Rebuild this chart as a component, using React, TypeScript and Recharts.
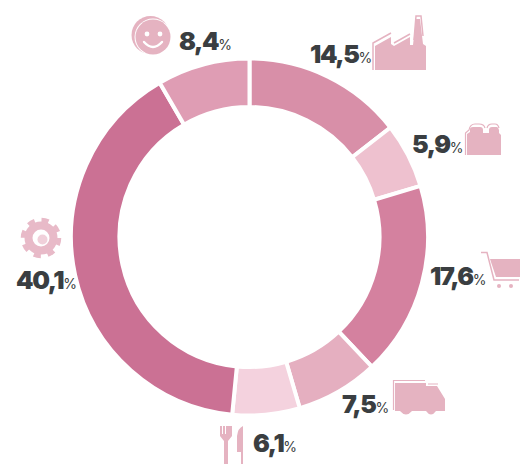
import { PieChart, Pie, Cell } from "recharts";

const CATEGORIES = ["industry", "construction", "commerce", "transport", "food", "services", "other"];
const SHARES = [14.5, 5.9, 17.6, 7.5, 6.1, 40.1, 8.4];
const SHARE_LABELS = ["14,5", "5,9", "17,6", "7,5", "6,1", "40,1", "8,4"];
const COLORS = ["#d88fa8", "#eec1cf", "#d4819f", "#e5afc0", "#f4d2de", "#cb7194", "#df9db4"];

// page coords of the text baseline start, one per slice
const LABEL_X = [310, 412, 430, 342, 253, 16, 179];
const LABEL_Y = [63, 153, 285, 413, 452, 289, 50];

const ICON = "#e5b3c1";

const data = CATEGORIES.map((name, i) => ({ name, value: SHARES[i] }));

function Factory() {
  return (
    <g>
      <path d="M375 46 L391 37 V44 L394 46 L410 37 V45 L413 45 L416 19 H420 L423 44 L426 46 V70 H375 Z" fill={ICON} />
      <path d="M373 70 V43 L391 33 M394 43 L410 34 M414 40 L416 16 H421 L423 36" fill="none" stroke={ICON} strokeWidth={1.5} />
    </g>
  );
}

function Block() {
  return (
    <g>
      <path d="M467 155 V134 L470 132 V129 Q470 127 473 127 H480 Q483 127 483 130 V133 H489 V130 Q489 127 492 127 H497 Q498 127 499 130 V133 L501 135 V155 Z" fill={ICON} />
      <path d="M465.5 155 V133 L469 130 Q470 124 475 124 H479 Q484 124 485 128 M487 128 Q488 124 492 124 H495 Q498 124 499 128" fill="none" stroke={ICON} strokeWidth={1.2} />
    </g>
  );
}

function Cart() {
  return (
    <g>
      <path d="M481 252.5 H487 L494 280 H519" fill="none" stroke={ICON} strokeWidth={1.5} />
      <path d="M490 259 H520 V277 H496 Z" fill={ICON} />
      <circle cx={499} cy={286} r={2} fill={ICON} />
      <circle cx={511} cy={286} r={2} fill={ICON} />
    </g>
  );
}

function Truck() {
  return (
    <g>
      <path d="M395 383 H426 V386 H437 L445 399 V411 H436 Q431 418 426 411 H412 Q406 418 400 411 H395 Z" fill={ICON} />
      <path d="M393.5 410 V380.5 H425 M428 384 H438" fill="none" stroke={ICON} strokeWidth={1.2} />
    </g>
  );
}

function Cutlery() {
  return (
    <g>
      <path d="M220 426 H222 V434 H223 V426 H225 V434 H226 V426 H228 V426 H232 V436 L228 441 V464 H224 V441 L220 436 Z" fill={ICON} />
      <path d="M237 452 V436 Q238 428 243 426 V464 H241 V452 Z" fill={ICON} />
    </g>
  );
}

function Gear() {
  return (
    <g>
      <circle cx={41} cy={238} r={12.5} fill="none" stroke="#e8bac8" strokeWidth={8} />
      <circle cx={41} cy={238} r={17.5} fill="none" stroke="#e8bac8" strokeWidth={5.5} strokeDasharray="7 6.74" />
      <circle cx={42.5} cy={239.5} r={5} fill="#f0d0da" />
    </g>
  );
}

function Smile() {
  return (
    <g>
      <circle cx={150.5} cy={35} r={19} fill={ICON} />
      <circle cx={153} cy={37} r={18.5} fill="#fff" />
      <circle cx={153} cy={37} r={17.5} fill={ICON} />
      <circle cx={147} cy={34} r={2.4} fill="#fff" />
      <circle cx={160} cy={34} r={2.4} fill="#fff" />
      <path d="M144 42 Q153 52 162 42" fill="none" stroke="#fff" strokeWidth={2.4} strokeLinecap="round" />
    </g>
  );
}

const ICONS = [Factory, Block, Cart, Truck, Cutlery, Gear, Smile];

function renderLabel({ index }: { index: number }) {
  const IconMark = ICONS[index];
  return (
    <g key={CATEGORIES[index]}>
      <IconMark />
      <text x={LABEL_X[index]} y={LABEL_Y[index]} fontFamily="Inter" fill="#3a3e41">
        <tspan fontSize={25} fontWeight={900} letterSpacing={-1.4}>
          {SHARE_LABELS[index]}
        </tspan>
        <tspan fontSize={14} fontWeight={400} dx={0}>
          %
        </tspan>
      </text>
    </g>
  );
}

export default function App() {
  return (
    <div style={{ position: "absolute", left: 0, top: 0, width: 520, height: 464, background: "#fff" }}>
      <PieChart width={520} height={464} margin={{ top: 0, right: 0, bottom: 0, left: 0 }}>
        <Pie
          data={data}
          dataKey="value"
          cx={249.5}
          cy={237}
          innerRadius={130}
          outerRadius={178.5}
          startAngle={90}
          endAngle={-270}
          stroke="#fff"
          strokeWidth={4}
          label={renderLabel}
          labelLine={false}
          isAnimationActive={false}
        >
          {data.map((d, i) => (
            <Cell key={d.name} fill={COLORS[i]} />
          ))}
        </Pie>
      </PieChart>
    </div>
  );
}
